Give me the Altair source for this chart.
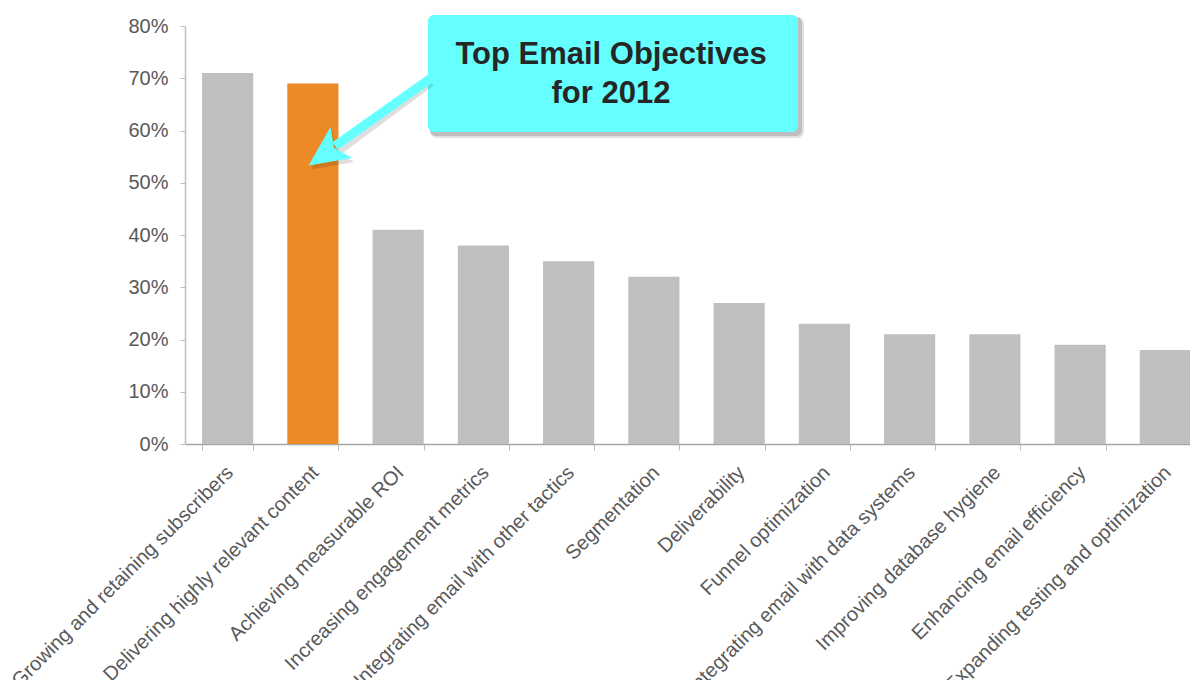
import altair as alt
import pandas as pd

categories = [
    "Growing and retaining subscribers",
    "Delivering highly relevant content",
    "Achieving measurable ROI",
    "Increasing engagement metrics",
    "Integrating email with other tactics",
    "Segmentation",
    "Deliverability",
    "Funnel optimization",
    "Integrating email with data systems",
    "Improving database hygiene",
    "Enhancing email efficiency",
    "Expanding testing and optimization",
]
values = [71, 69, 41, 38, 35, 32, 27, 23, 21, 21, 19, 18]
highlight = "Delivering highly relevant content"
y_ticks = [0, 0.1, 0.2, 0.3, 0.4, 0.5, 0.6, 0.7, 0.8]
callout_lines = ["Top Email Objectives", "for 2012"]

df = pd.DataFrame({
    "objective": categories,
    "share": [v / 100 for v in values],
    "hl": ["yes" if c == highlight else "no" for c in categories],
})

W, H = 1005, 418
FONT = "Liberation Sans"
CYAN = "#66FFFF"

bars = alt.Chart(df).mark_bar().encode(
    x=alt.X(
        "objective:N",
        sort=categories,
        title=None,
        scale=alt.Scale(paddingInner=0.4, paddingOuter=0.2, range=[0, 1023]),
        axis=alt.Axis(
            labelAngle=-45,
            labelFontSize=20,
            labelColor="#595959",
            labelFont=FONT,
            labelPadding=12,
            labelOffset=-5,
            labelLimit=500,
            tickBand="extent",
            tickSize=6,
            tickColor="#BFBFBF",
            domainColor="#A6A6A6",
            domainWidth=1.5,
            labelOverlap=False,
        ),
    ),
    y=alt.Y(
        "share:Q",
        title=None,
        scale=alt.Scale(domain=[0, 0.8], nice=False),
        axis=alt.Axis(
            values=y_ticks,
            format=".0%",
            labelFontSize=20,
            labelColor="#595959",
            labelFont=FONT,
            labelPadding=12,
            tickSize=5,
            tickColor="#BFBFBF",
            domainColor="#BFBFBF",
            domainWidth=1.5,
            grid=False,
        ),
    ),
    color=alt.Color(
        "hl:N",
        scale=alt.Scale(domain=["no", "yes"], range=["#BFBFBF", "#EB8A27"]),
        legend=None,
    ),
)

one = alt.Data(values=[{"a": 1}])

# callout box geometry (pixels relative to plot area)
bx1, bx2, by1, by2 = 243, 613, -11, 106

shadow1 = alt.Chart(one).mark_rect(cornerRadius=7, color="#000000", opacity=0.12).encode(
    x=alt.value(bx1 + 2), x2=alt.value(bx2 + 6), y=alt.value(by1 + 2), y2=alt.value(by2 + 6)
)
shadow2 = alt.Chart(one).mark_rect(cornerRadius=6, color="#000000", opacity=0.15).encode(
    x=alt.value(bx1 + 2), x2=alt.value(bx2 + 4), y=alt.value(by1 + 2), y2=alt.value(by2 + 4)
)
box = alt.Chart(one).mark_rect(cornerRadius=6, color=CYAN).encode(
    x=alt.value(bx1), x2=alt.value(bx2), y=alt.value(by1), y2=alt.value(by2)
)
label = alt.Chart(one).mark_text(
    text=callout_lines,
    font=FONT,
    fontSize=31,
    fontWeight="bold",
    color="#262626",
    align="center",
    baseline="middle",
    lineHeight=39,
).encode(x=alt.value((bx1 + bx2) / 2 - 2), y=alt.value(29))

# arrow (pixels relative to plot area)
sx, sy = 246, 52
ex, ey = 150, 120
arrow_shadow = alt.Chart(one).mark_rule(color="#000000", opacity=0.13, strokeWidth=9).encode(
    x=alt.value(sx), y=alt.value(sy + 4), x2=alt.value(ex + 3), y2=alt.value(ey + 5)
)
shaft = alt.Chart(one).mark_rule(color=CYAN, strokeWidth=9).encode(
    x=alt.value(sx), y=alt.value(sy), x2=alt.value(ex), y2=alt.value(ey)
)
head_path = "M0,-1 L0.95,1 L0,0.55 L-0.95,1 Z"
head_shadow = alt.Chart(one).mark_point(
    shape=head_path, size=1600, filled=True, color="#000000", opacity=0.13, angle=235, strokeWidth=0
).encode(x=alt.value(142), y=alt.value(132))
head = alt.Chart(one).mark_point(
    shape=head_path, size=1600, filled=True, color=CYAN, opacity=1, angle=235, strokeWidth=0
).encode(x=alt.value(140), y=alt.value(128))

chart = alt.layer(
    bars, shadow1, shadow2, box, label, arrow_shadow, head_shadow, shaft, head
).properties(
    width=W,
    height=H,
    autosize=alt.AutoSizeParams(type="none"),
    padding={"left": 177, "top": 18, "right": 0, "bottom": 236},
).configure(font=FONT, view=alt.ViewConfig(stroke=None))

chart.save("out.html", embed_options={"renderer": "svg", "actions": False})
